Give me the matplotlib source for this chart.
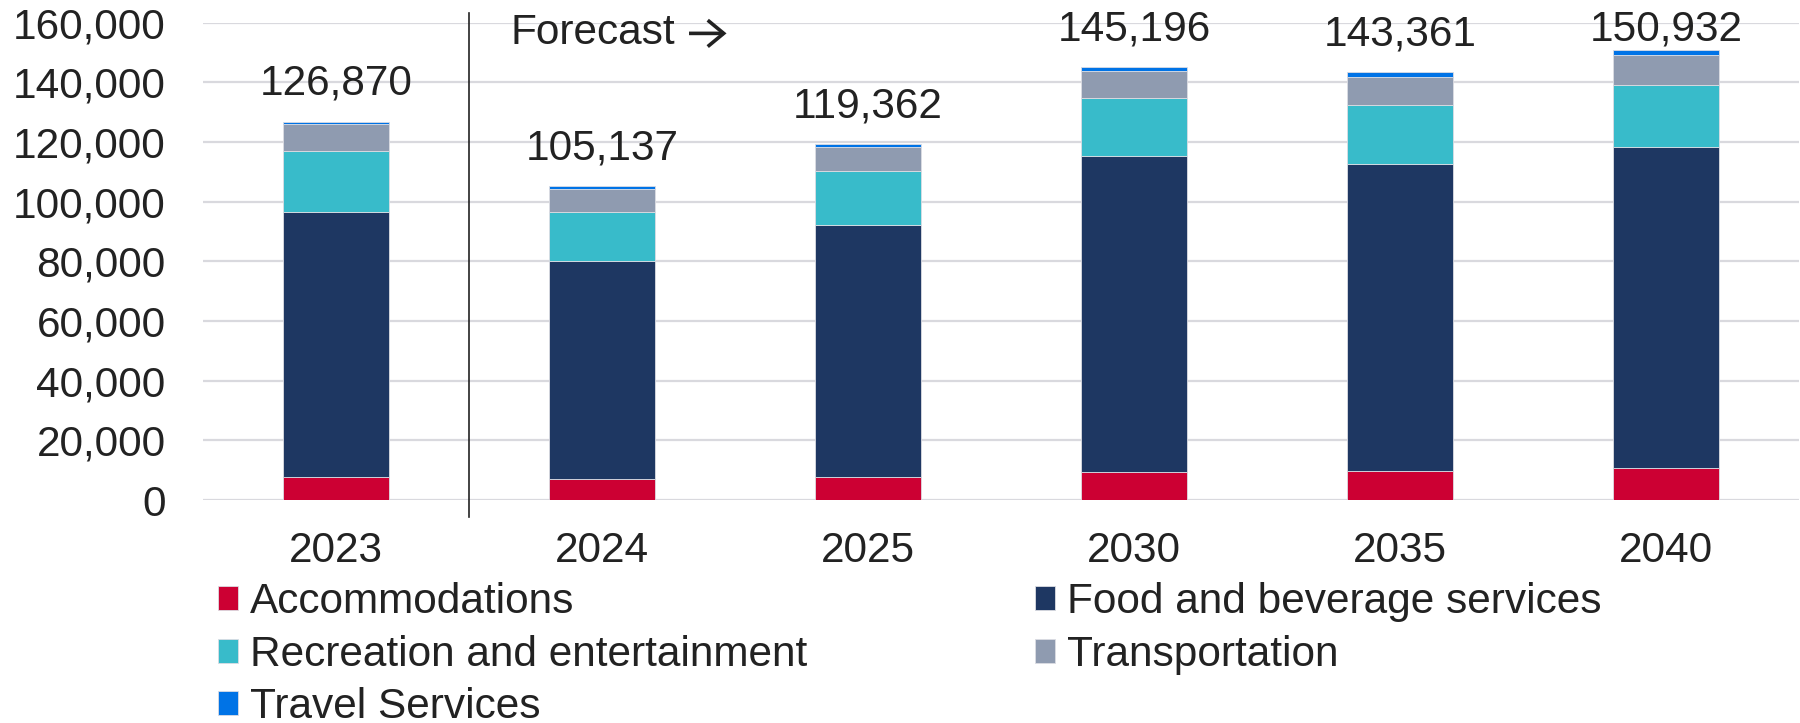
import matplotlib.pyplot as plt
from matplotlib.ticker import FuncFormatter
from matplotlib.text import OffsetFrom
import numpy as np

plt.rcParams['font.family'] = ['Liberation Sans', 'DejaVu Sans']

years = ["2023", "2024", "2025", "2030", "2035", "2040"]
totals = [126870, 105137, 119362, 145196, 143361, 150932]

accommodations = [7600, 6900, 7600, 9300, 9600, 10600]
food_beverage = [88800, 73300, 84600, 106100, 103100, 107800]
recreation = [20700, 16400, 18000, 19200, 19600, 20700]
transportation = [8800, 7800, 8100, 9200, 9500, 10100]
# travel services is what is left of each total
travel = [t - a - f - r - tr for t, a, f, r, tr in
          zip(totals, accommodations, food_beverage, recreation, transportation)]

series = [
    ("Accommodations", accommodations, "#CC0033"),
    ("Food and beverage services", food_beverage, "#1E3762"),
    ("Recreation and entertainment", recreation, "#38BBCA"),
    ("Transportation", transportation, "#8F9BB0"),
    ("Travel Services", travel, "#0073E6"),
]

FS = 30.5
INK = "#222222"

fig = plt.figure(figsize=(18, 7.23), dpi=100)
ax = fig.add_axes([0.1128, 0.3084, 0.8866, 0.6602])

x = np.arange(len(years))
bottom = np.zeros(len(years))
handles = {}
for name, vals, col in series:
    b = ax.bar(x, vals, 0.4, bottom=bottom, color=col, edgecolor="#dcdde3",
               linewidth=0.6, label=name, zorder=3)
    handles[name] = b
    bottom += np.array(vals)

# totals above the bars, kept inside the plot area
for xi, t in zip(x, totals):
    ax.text(xi, min(t + 9000, 154000), f"{t:,}", ha="center", va="baseline",
            fontsize=FS, color=INK)

ax.set_xlim(-0.5, len(years) - 0.5)
ax.set_ylim(0, 160000)
ax.set_yticks(range(0, 160001, 20000))
ax.yaxis.set_major_formatter(FuncFormatter(lambda v, p: f"{int(v):,}"))
ax.set_xticks(x)
ax.set_xticklabels(years)
ax.tick_params(axis="both", length=0, labelsize=FS, colors=INK)
ax.tick_params(axis="y", pad=27)
ax.tick_params(axis="x", pad=22)
ax.grid(axis="y", color="#d9d9de", linewidth=1.6, zorder=0)
for s in ax.spines.values():
    s.set_visible(False)

# actuals / forecast divider
ax.plot([0.5, 0.5], [-0.035, 1.02], transform=ax.get_xaxis_transform(),
        color=INK, linewidth=1.2, clip_on=False, zorder=4)
ftxt = ax.text(0.656, 153000, "Forecast", ha="left", va="baseline",
               fontsize=FS, color=INK)
off = OffsetFrom(ftxt, (1.0, 0.48))
ax.annotate("", xy=(37, 0), xycoords=off, xytext=(10, 0), textcoords=off,
            arrowprops=dict(arrowstyle="->,head_length=1.15,head_width=0.95",
                            lw=2.6, color=INK, shrinkA=0, shrinkB=0,
                            mutation_scale=10, joinstyle="miter",
                            capstyle="butt"))

order = ["Accommodations", "Recreation and entertainment", "Travel Services",
         "Food and beverage services", "Transportation"]
fig.legend([handles[n] for n in order], order, ncol=2, frameon=False,
           loc="upper left", bbox_to_anchor=(218 / 1800, 1 - 582 / 723),
           borderaxespad=0, borderpad=0, fontsize=FS, handlelength=0.47,
           handleheight=0.5, handletextpad=0.28, columnspacing=5.38,
           labelspacing=0.3, labelcolor=INK)

fig.savefig("out.png", dpi=100)
